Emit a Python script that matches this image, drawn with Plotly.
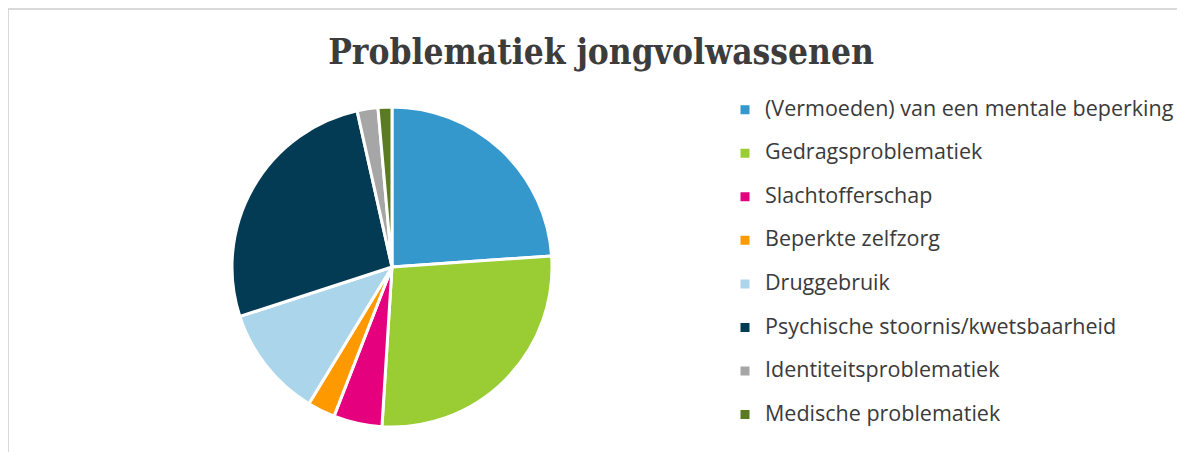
import plotly.graph_objects as go

# Data (share of cases, %)
categories = [
    "(Vermoeden) van een mentale beperking",
    "Gedragsproblematiek",
    "Slachtofferschap",
    "Beperkte zelfzorg",
    "Druggebruik",
    "Psychische stoornis/kwetsbaarheid",
    "Identiteitsproblematiek",
    "Medische problematiek",
]
shares = [23.9, 27.1, 4.9, 2.8, 11.3, 26.5, 2.1, 1.4]
slice_colors = ["#3598CD", "#9ACC33", "#E5007E", "#FF9900",
                "#ABD5EA", "#043B54", "#A6A6A6", "#5A7B22"]

# page has an 8px body margin, so the figure is drawn a bit smaller
W, H = 1177, 444

# legend entries: smaller legend font + 2 lines gives the row spacing,
# real text size comes from the span
legend_labels = [f"<span style='font-size:21.5px'>{c}</span><br> " for c in categories]

fig = go.Figure(
    go.Pie(
        labels=legend_labels,
        values=shares,
        sort=False,
        direction="clockwise",
        rotation=0,
        textinfo="none",
        hoverinfo="percent",
        marker=dict(colors=slice_colors, line=dict(color="white", width=3)),
        domain=dict(x=[224 / W, 544 / W], y=[(H - 419) / H, (H - 99) / H]),
    )
)

# thin grey frame (top and left) like the source image
fig.add_shape(type="line", xref="paper", yref="paper",
              x0=0, x1=1.0, y0=1 - 1 / H, y1=1 - 1 / H,
              line=dict(color="#D9D9D9", width=2))
fig.add_shape(type="line", xref="paper", yref="paper",
              x0=0, x1=0, y0=0, y1=1,
              line=dict(color="#D9D9D9", width=2))

fig.update_layout(
    width=W,
    height=H,
    margin=dict(t=0, b=0, l=0, r=0),
    paper_bgcolor="white",
    plot_bgcolor="white",
    title=dict(
        text="<b>Problematiek jongvolwassenen</b>",
        font=dict(family="DejaVu Serif Condensed, DejaVu Serif", size=35, color="#3C3C3C"),
        x=593 / W,
        xanchor="center",
        y=1 - 43.5 / H,
        yanchor="middle",
    ),
    legend=dict(
        x=717 / W,
        xanchor="left",
        y=1 - 85 / H,
        yanchor="top",
        valign="top",
        font=dict(family="Open Sans", size=15.6, color="#3A3A3A"),
        bgcolor="rgba(0,0,0,0)",
    ),
    showlegend=True,
)

fig.write_html("out.html")
